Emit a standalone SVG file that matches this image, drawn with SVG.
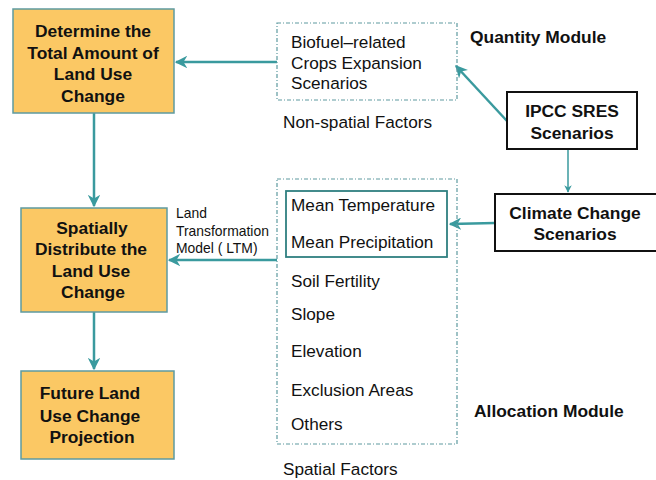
<svg xmlns="http://www.w3.org/2000/svg" width="656" height="480" viewBox="0 0 656 480">
<style>
.proc{fill:#FBC864;stroke:#5E9AA0;stroke-width:1.5}
.scen{fill:#fff;stroke:#111;stroke-width:2}
.dash{fill:none;stroke:#5E9AA0;stroke-width:1.2;stroke-dasharray:4 2 1 2}
.bt{font-family:"Liberation Sans",Arial,sans-serif;font-weight:bold;font-size:17.4px;fill:#111;text-anchor:middle}
.t{font-family:"Liberation Sans",Arial,sans-serif;font-size:17.2px;fill:#111}
.s{font-family:"Liberation Sans",Arial,sans-serif;font-size:13.9px;fill:#111}
.c{fill:none;stroke:#3A9A9E;stroke-width:2.5}
.ct{fill:none;stroke:#3A9A9E;stroke-width:1.5}
</style>
<defs>
<marker id="ah" viewBox="0 0 10 10" refX="9" refY="5" markerWidth="5" markerHeight="5" orient="auto" markerUnits="strokeWidth">
<path d="M0,0 L10,5 L0,10 L3,5 Z" fill="#3A9A9E"/>
</marker>
<marker id="ahs" viewBox="0 0 10 10" refX="9" refY="5" markerWidth="5" markerHeight="5" orient="auto" markerUnits="strokeWidth">
<path d="M0,0 L10,5 L0,10 L3,5 Z" fill="#3A9A9E"/>
</marker>
</defs>
<rect width="656" height="480" fill="#fff"/>
<g id="connectors">
<line class="c" x1="277" y1="62" x2="176" y2="62" marker-end="url(#ah)"/>
<line class="c" x1="94" y1="113" x2="94" y2="206" marker-end="url(#ah)"/>
<line class="c" x1="94" y1="312" x2="94" y2="369" marker-end="url(#ah)"/>
<line class="c" x1="277" y1="260" x2="169" y2="260" marker-end="url(#ah)"/>
<line class="c" x1="507" y1="121" x2="456" y2="66" marker-end="url(#ah)"/>
<line class="ct" x1="568" y1="149" x2="568" y2="192" marker-end="url(#ahs)"/>
<line class="c" x1="495" y1="223" x2="450" y2="224" marker-end="url(#ah)"/>
</g>
<g id="n-determine">
<rect class="proc" x="13" y="9" width="161" height="104"/>
<text class="bt" x="93" y="37">Determine the</text>
<text class="bt" x="93" y="59">Total Amount of</text>
<text class="bt" x="93" y="80">Land Use</text>
<text class="bt" x="93" y="102">Change</text>
</g>
<g id="n-spatially">
<rect class="proc" x="21" y="208" width="146" height="104"/>
<text class="bt" x="92" y="234">Spatially</text>
<text class="bt" x="91" y="255">Distribute the</text>
<text class="bt" x="91" y="277">Land Use</text>
<text class="bt" x="93" y="298">Change</text>
</g>
<g id="n-future">
<rect class="proc" x="21" y="371" width="153" height="88"/>
<text class="bt" x="90" y="399">Future Land</text>
<text class="bt" x="90" y="422">Use Change</text>
<text class="bt" x="92" y="443">Projection</text>
</g>
<g id="n-biofuel">
<rect class="dash" x="277" y="23" width="180" height="77"/>
<text class="t" x="291" y="48">Biofuel–related</text>
<text class="t" x="291" y="69">Crops Expansion</text>
<text class="t" x="291" y="89">Scenarios</text>
</g>
<text class="t" x="283" y="128">Non-spatial Factors</text>
<text class="bt" x="470" y="43" style="text-anchor:start">Quantity Module</text>
<g id="n-ipcc">
<rect class="scen" x="507" y="92" width="130" height="57"/>
<text class="bt" x="572" y="117">IPCC SRES</text>
<text class="bt" x="572" y="139">Scenarios</text>
</g>
<g id="n-climate">
<rect class="scen" x="495" y="194" width="162" height="57"/>
<text class="bt" x="575" y="219">Climate Change</text>
<text class="bt" x="575" y="240">Scenarios</text>
</g>
<g id="n-spatial">
<rect class="dash" x="277" y="179" width="180" height="265"/>
<rect x="286" y="191" width="161" height="66" fill="none" stroke="#2F7F80" stroke-width="1.8"/>
<text class="t" x="291" y="211">Mean Temperature</text>
<text class="t" x="291" y="248">Mean Precipitation</text>
<text class="t" x="291" y="287">Soil Fertility</text>
<text class="t" x="291" y="320">Slope</text>
<text class="t" x="291" y="357">Elevation</text>
<text class="t" x="291" y="396">Exclusion Areas</text>
<text class="t" x="291" y="430">Others</text>
</g>
<text class="t" x="283" y="475">Spatial Factors</text>
<text class="bt" x="474" y="417" style="text-anchor:start">Allocation Module</text>
<g id="ltm-label">
<text class="s" x="176" y="218">Land</text>
<text class="s" x="176" y="236">Transformation</text>
<text class="s" x="176" y="253">Model ( LTM)</text>
</g>
</svg>
